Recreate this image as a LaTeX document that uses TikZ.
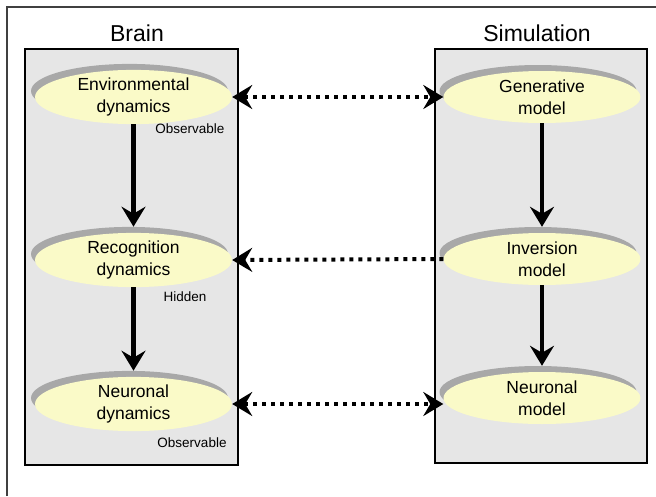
\documentclass[tikz,border=0pt]{standalone}
\usepackage{fontspec}
\setmainfont{Liberation Sans}
\usetikzlibrary{shapes.geometric,arrows.meta,shadows}
\definecolor{boxgray}{HTML}{E6E6E6}
\definecolor{ellyellow}{HTML}{FAFAC8}
\definecolor{shadowgray}{HTML}{A8A8A8}
\tikzset{
  panel/.style={draw=black, line width=1.2pt, fill=boxgray},
  ell/.style={ellipse, fill=ellyellow, inner sep=0pt, minimum width=197pt, minimum height=52pt,
    align=center, font=\fontsize{17.5}{22}\selectfont,
    drop shadow={shadow xshift=-4pt, shadow yshift=6pt, fill=shadowgray, opacity=1}},
  title/.style={font=\fontsize{23}{26}\selectfont},
  small/.style={font=\fontsize{13.5}{15}\selectfont},
  varrow/.style={line width=4.5pt, -{Stealth[length=20pt, width=24pt, inset=7pt]}, shorten >=6pt},
  darrow/.style={line width=4pt, dash pattern=on 4pt off 5pt,
    {Stealth[length=20pt, width=24pt, inset=7pt]}-{Stealth[length=20pt, width=24pt, inset=7pt]}},
  larrow/.style={line width=4pt, dash pattern=on 4pt off 5pt,
    -{Stealth[length=20pt, width=24pt, inset=7pt]}}
}
\begin{document}
\begin{tikzpicture}[x=1pt, y=-1pt]
\useasboundingbox (0,0) rectangle (656,496);
\draw[line width=1.5pt, black!75] (7,496) -- (7,7) -- (656,7);
\node[title] (tb) at (137,33) {Brain};
\node[title] (ts) at (537,33) {Simulation};
\draw[panel] (25,49) rectangle (238,465);
\draw[panel] (435,49) rectangle (647,463);
\node[ell] (env) at (133.5,97) {Environmental\\dynamics};
\node[ell] (rec) at (133.5,260) {Recognition\\dynamics};
\node[ell] (neu) at (133.5,404) {Neuronal\\dynamics};
\node[ell] (gen) at (542,97) {Generative\\model};
\node[ell] (inv) at (542,259) {Inversion\\model};
\node[ell] (nm) at (542,398) {Neuronal\\model};
\node[small, anchor=east] (o1) at (228,129) {Observable};
\node[small] (hid) at (185,297) {Hidden};
\node[small] (o2) at (192,443) {Observable};
\draw[varrow] (env) -- (rec);
\draw[varrow] (rec) -- (neu);
\draw[varrow] (gen) -- (inv);
\draw[varrow] (inv) -- (nm);
\draw[darrow] (env.east) -- (gen.west);
\draw[larrow] (inv.west) -- (rec.east);
\draw[darrow] (neu.east) -- (nm.west |- neu.east);
\end{tikzpicture}
\end{document}
